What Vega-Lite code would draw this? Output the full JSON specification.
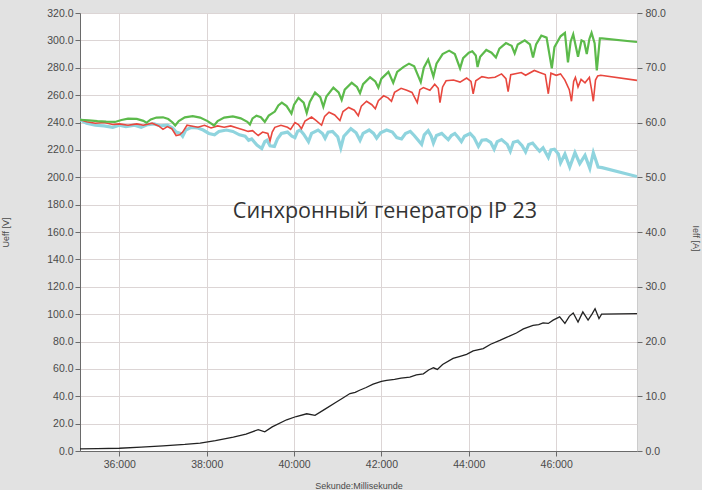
{
  "$schema": "https://vega.github.io/schema/vega-lite/v6.json",
  "width": 557,
  "height": 438,
  "autosize": {"type": "none"},
  "padding": {"left": 80, "top": 13, "right": 65, "bottom": 39},
  "background": "#e2e2e2",
  "config": {
    "view": {"fill": "white", "stroke": "#cccccc"},
    "axis": {
      "labelFont": "Liberation Sans", "titleFont": "Liberation Sans",
      "labelColor": "#4a4a4a", "titleColor": "#4a4a4a",
      "labelFontSize": 10.5, "titleFontSize": 9, "titleFontWeight": "normal",
      "domainColor": "#6a6a6a", "tickColor": "#6a6a6a", "tickSize": 5,
      "gridColor": "#dcd5d5", "gridWidth": 1, "labelOverlap": false
    }
  },
  "datasets": {
    "green": [
      {"t":35.10,"v":242.0},{"t":35.30,"v":241.6},{"t":35.50,"v":241.0},{"t":35.70,"v":240.6},{"t":35.90,"v":240.4},
      {"t":36.05,"v":241.8},{"t":36.20,"v":242.8},{"t":36.40,"v":242.6},{"t":36.55,"v":241.2},{"t":36.62,"v":239.8},
      {"t":36.72,"v":242.2},{"t":36.85,"v":243.6},{"t":37.00,"v":243.8},{"t":37.12,"v":242.5},{"t":37.22,"v":240.0},
      {"t":37.28,"v":237.8},{"t":37.36,"v":241.0},{"t":37.50,"v":243.8},{"t":37.68,"v":244.6},{"t":37.85,"v":243.6},
      {"t":38.02,"v":241.0},{"t":38.17,"v":237.8},{"t":38.25,"v":241.0},{"t":38.40,"v":243.6},{"t":38.60,"v":244.4},
      {"t":38.78,"v":243.0},{"t":38.93,"v":240.5},{"t":38.99,"v":238.5},{"t":39.05,"v":243.0},{"t":39.14,"v":245.0},
      {"t":39.24,"v":243.8},{"t":39.33,"v":240.5},{"t":39.42,"v":245.0},{"t":39.56,"v":248.0},{"t":39.64,"v":252.5},
      {"t":39.72,"v":254.5},{"t":39.83,"v":252.0},{"t":39.94,"v":246.5},{"t":40.00,"v":253.0},{"t":40.10,"v":258.0},
      {"t":40.22,"v":254.5},{"t":40.29,"v":247.0},{"t":40.36,"v":255.0},{"t":40.48,"v":262.0},{"t":40.60,"v":258.5},
      {"t":40.67,"v":251.5},{"t":40.74,"v":259.0},{"t":40.90,"v":265.5},{"t":41.02,"v":262.0},{"t":41.09,"v":256.5},
      {"t":41.16,"v":264.0},{"t":41.32,"v":269.0},{"t":41.44,"v":266.0},{"t":41.51,"v":261.5},{"t":41.58,"v":268.0},
      {"t":41.74,"v":273.0},{"t":41.86,"v":270.0},{"t":41.93,"v":265.5},{"t":42.00,"v":272.0},{"t":42.16,"v":277.0},
      {"t":42.27,"v":269.0},{"t":42.36,"v":277.0},{"t":42.50,"v":280.5},{"t":42.63,"v":283.0},{"t":42.75,"v":281.0},
      {"t":42.90,"v":269.5},{"t":42.97,"v":280.0},{"t":43.07,"v":286.0},{"t":43.19,"v":273.5},{"t":43.26,"v":283.0},
      {"t":43.40,"v":290.0},{"t":43.55,"v":292.5},{"t":43.68,"v":290.0},{"t":43.80,"v":279.5},{"t":43.87,"v":287.0},
      {"t":44.00,"v":291.0},{"t":44.08,"v":292.0},{"t":44.16,"v":289.0},{"t":44.20,"v":280.5},{"t":44.26,"v":288.0},
      {"t":44.40,"v":293.0},{"t":44.52,"v":291.0},{"t":44.62,"v":287.5},{"t":44.70,"v":294.0},{"t":44.85,"v":298.0},
      {"t":44.98,"v":296.0},{"t":45.05,"v":290.5},{"t":45.12,"v":297.0},{"t":45.28,"v":300.0},{"t":45.40,"v":297.0},
      {"t":45.47,"v":287.5},{"t":45.54,"v":297.0},{"t":45.66,"v":303.5},{"t":45.78,"v":302.0},{"t":45.90,"v":279.5},
      {"t":45.96,"v":295.0},{"t":46.10,"v":303.0},{"t":46.20,"v":305.5},{"t":46.27,"v":284.0},{"t":46.33,"v":299.0},
      {"t":46.39,"v":304.5},{"t":46.50,"v":288.0},{"t":46.58,"v":300.0},{"t":46.64,"v":299.0},{"t":46.70,"v":290.0},
      {"t":46.76,"v":301.0},{"t":46.81,"v":305.5},{"t":46.88,"v":298.0},{"t":46.93,"v":278.0},{"t":47.00,"v":301.5},
      {"t":47.05,"v":301.5},{"t":47.85,"v":298.8}
    ],
    "red": [
      {"t":35.10,"v":242.0},{"t":35.25,"v":240.5},{"t":35.45,"v":239.5},{"t":35.65,"v":240.0},{"t":35.85,"v":238.5},
      {"t":36.00,"v":239.0},{"t":36.20,"v":238.0},{"t":36.40,"v":239.0},{"t":36.55,"v":238.0},{"t":36.75,"v":239.5},
      {"t":36.90,"v":237.5},{"t":37.00,"v":235.0},{"t":37.10,"v":237.0},{"t":37.20,"v":235.5},{"t":37.30,"v":230.5},
      {"t":37.38,"v":231.0},{"t":37.45,"v":233.0},{"t":37.55,"v":238.0},{"t":37.65,"v":237.5},{"t":37.80,"v":236.5},
      {"t":37.95,"v":238.0},{"t":38.10,"v":236.0},{"t":38.25,"v":237.5},{"t":38.40,"v":236.5},{"t":38.55,"v":237.5},
      {"t":38.70,"v":236.0},{"t":38.85,"v":234.5},{"t":38.95,"v":233.5},{"t":39.05,"v":234.0},{"t":39.18,"v":230.5},
      {"t":39.28,"v":233.0},{"t":39.40,"v":232.0},{"t":39.45,"v":226.5},{"t":39.50,"v":233.0},{"t":39.56,"v":236.5},
      {"t":39.70,"v":238.0},{"t":39.85,"v":236.5},{"t":39.92,"v":235.0},{"t":40.02,"v":240.0},{"t":40.10,"v":238.5},
      {"t":40.17,"v":235.5},{"t":40.25,"v":241.0},{"t":40.40,"v":244.0},{"t":40.50,"v":241.5},{"t":40.63,"v":238.0},
      {"t":40.70,"v":244.5},{"t":40.80,"v":247.5},{"t":40.93,"v":245.5},{"t":41.05,"v":241.5},{"t":41.12,"v":248.0},
      {"t":41.25,"v":251.0},{"t":41.38,"v":249.0},{"t":41.47,"v":245.0},{"t":41.54,"v":252.0},{"t":41.66,"v":255.5},
      {"t":41.78,"v":253.0},{"t":41.86,"v":250.0},{"t":41.93,"v":256.0},{"t":42.05,"v":259.5},{"t":42.15,"v":258.0},
      {"t":42.23,"v":255.5},{"t":42.30,"v":262.0},{"t":42.45,"v":265.0},{"t":42.58,"v":263.5},{"t":42.70,"v":262.0},
      {"t":42.82,"v":254.5},{"t":42.88,"v":264.0},{"t":42.96,"v":265.5},{"t":43.11,"v":263.5},{"t":43.22,"v":268.0},
      {"t":43.30,"v":265.0},{"t":43.34,"v":254.5},{"t":43.40,"v":266.0},{"t":43.48,"v":270.5},{"t":43.65,"v":271.0},
      {"t":43.80,"v":269.5},{"t":43.95,"v":272.5},{"t":44.05,"v":270.0},{"t":44.10,"v":261.0},{"t":44.16,"v":270.5},
      {"t":44.30,"v":273.5},{"t":44.45,"v":272.5},{"t":44.60,"v":273.0},{"t":44.75,"v":275.5},{"t":44.85,"v":272.0},
      {"t":44.90,"v":262.5},{"t":44.96,"v":275.0},{"t":45.20,"v":276.5},{"t":45.30,"v":274.5},{"t":45.50,"v":278.0},
      {"t":45.62,"v":276.5},{"t":45.75,"v":275.0},{"t":45.82,"v":261.0},{"t":45.88,"v":276.0},{"t":46.00,"v":274.5},
      {"t":46.10,"v":275.5},{"t":46.20,"v":271.0},{"t":46.30,"v":264.0},{"t":46.35,"v":255.5},{"t":46.40,"v":270.0},
      {"t":46.44,"v":273.0},{"t":46.50,"v":266.0},{"t":46.57,"v":271.5},{"t":46.66,"v":269.0},{"t":46.76,"v":273.0},
      {"t":46.81,"v":264.0},{"t":46.85,"v":255.5},{"t":46.90,"v":271.0},{"t":46.95,"v":274.0},{"t":47.02,"v":274.5},
      {"t":47.85,"v":270.8}
    ],
    "cyan": [
      {"t":35.10,"v":242.0},{"t":35.25,"v":239.5},{"t":35.45,"v":238.0},{"t":35.65,"v":237.5},{"t":35.85,"v":236.5},
      {"t":36.00,"v":238.0},{"t":36.15,"v":237.0},{"t":36.35,"v":238.0},{"t":36.50,"v":236.5},{"t":36.65,"v":238.5},
      {"t":36.80,"v":239.0},{"t":36.95,"v":237.5},{"t":37.10,"v":238.0},{"t":37.22,"v":236.0},{"t":37.30,"v":233.0},
      {"t":37.40,"v":232.0},{"t":37.45,"v":230.0},{"t":37.52,"v":234.5},{"t":37.65,"v":236.5},{"t":37.80,"v":236.0},
      {"t":37.92,"v":234.5},{"t":38.05,"v":232.0},{"t":38.18,"v":231.0},{"t":38.28,"v":233.5},{"t":38.45,"v":234.5},
      {"t":38.60,"v":233.5},{"t":38.75,"v":231.0},{"t":38.88,"v":230.0},{"t":38.96,"v":227.0},{"t":39.03,"v":228.0},
      {"t":39.15,"v":223.5},{"t":39.26,"v":221.0},{"t":39.33,"v":226.0},{"t":39.38,"v":227.0},{"t":39.45,"v":223.0},
      {"t":39.55,"v":222.5},{"t":39.62,"v":228.0},{"t":39.71,"v":232.0},{"t":39.85,"v":233.0},{"t":39.95,"v":230.0},
      {"t":40.02,"v":229.0},{"t":40.08,"v":233.5},{"t":40.14,"v":234.5},{"t":40.22,"v":231.5},{"t":40.33,"v":226.0},
      {"t":40.40,"v":232.0},{"t":40.55,"v":234.5},{"t":40.65,"v":232.0},{"t":40.71,"v":228.5},{"t":40.78,"v":233.0},
      {"t":40.88,"v":233.5},{"t":41.00,"v":229.5},{"t":41.07,"v":221.5},{"t":41.14,"v":230.0},{"t":41.30,"v":235.5},
      {"t":41.42,"v":232.5},{"t":41.51,"v":227.0},{"t":41.58,"v":232.0},{"t":41.72,"v":234.5},{"t":41.82,"v":232.0},
      {"t":41.89,"v":228.5},{"t":41.98,"v":232.5},{"t":42.12,"v":234.5},{"t":42.25,"v":233.0},{"t":42.35,"v":229.0},
      {"t":42.46,"v":228.0},{"t":42.55,"v":232.0},{"t":42.66,"v":233.5},{"t":42.75,"v":230.5},{"t":42.92,"v":224.0},
      {"t":42.98,"v":231.0},{"t":43.07,"v":234.0},{"t":43.14,"v":230.0},{"t":43.19,"v":225.0},{"t":43.26,"v":230.5},
      {"t":43.38,"v":232.0},{"t":43.48,"v":229.0},{"t":43.53,"v":227.5},{"t":43.60,"v":230.5},{"t":43.68,"v":232.0},
      {"t":43.76,"v":229.0},{"t":43.83,"v":226.0},{"t":43.90,"v":230.0},{"t":44.03,"v":232.0},{"t":44.12,"v":229.0},
      {"t":44.22,"v":222.5},{"t":44.30,"v":227.0},{"t":44.40,"v":227.5},{"t":44.50,"v":225.5},{"t":44.58,"v":220.5},
      {"t":44.65,"v":226.0},{"t":44.75,"v":227.5},{"t":44.88,"v":224.0},{"t":44.95,"v":219.0},{"t":45.02,"v":225.5},
      {"t":45.12,"v":226.5},{"t":45.22,"v":223.0},{"t":45.30,"v":218.5},{"t":45.37,"v":224.0},{"t":45.46,"v":225.0},
      {"t":45.55,"v":221.5},{"t":45.62,"v":219.0},{"t":45.70,"v":221.5},{"t":45.82,"v":214.5},{"t":45.88,"v":220.0},
      {"t":45.96,"v":220.5},{"t":46.05,"v":217.0},{"t":46.10,"v":210.5},{"t":46.20,"v":217.0},{"t":46.31,"v":207.5},
      {"t":46.43,"v":218.0},{"t":46.54,"v":210.0},{"t":46.66,"v":216.0},{"t":46.77,"v":206.5},{"t":46.85,"v":218.0},
      {"t":46.96,"v":207.5},{"t":47.05,"v":207.0},{"t":47.85,"v":200.5}
    ],
    "current": [
      {"t":35.10,"v":0.4},{"t":35.50,"v":0.45},{"t":36.00,"v":0.5},{"t":36.50,"v":0.7},{"t":37.00,"v":0.95},
      {"t":37.50,"v":1.2},{"t":37.85,"v":1.45},{"t":38.20,"v":1.9},{"t":38.61,"v":2.55},{"t":38.90,"v":3.1},
      {"t":39.18,"v":3.9},{"t":39.33,"v":3.5},{"t":39.50,"v":4.4},{"t":39.83,"v":5.7},{"t":40.05,"v":6.3},
      {"t":40.29,"v":6.8},{"t":40.48,"v":6.5},{"t":40.70,"v":7.6},{"t":40.97,"v":8.95},{"t":41.10,"v":9.6},
      {"t":41.28,"v":10.5},{"t":41.40,"v":10.7},{"t":41.50,"v":11.1},{"t":41.65,"v":11.6},{"t":41.81,"v":12.2},
      {"t":42.00,"v":12.7},{"t":42.12,"v":12.9},{"t":42.30,"v":13.1},{"t":42.45,"v":13.3},{"t":42.65,"v":13.5},
      {"t":42.80,"v":13.9},{"t":42.96,"v":14.1},{"t":43.08,"v":14.8},{"t":43.19,"v":15.2},{"t":43.28,"v":14.9},
      {"t":43.40,"v":15.8},{"t":43.64,"v":16.9},{"t":43.80,"v":17.3},{"t":43.95,"v":17.65},{"t":44.10,"v":18.3},
      {"t":44.33,"v":18.7},{"t":44.50,"v":19.5},{"t":44.71,"v":20.2},{"t":44.85,"v":20.7},{"t":45.09,"v":21.55},
      {"t":45.25,"v":22.3},{"t":45.47,"v":22.95},{"t":45.60,"v":23.1},{"t":45.70,"v":23.4},{"t":45.82,"v":23.3},
      {"t":45.93,"v":23.9},{"t":46.08,"v":24.5},{"t":46.20,"v":23.3},{"t":46.30,"v":24.6},{"t":46.39,"v":25.2},
      {"t":46.50,"v":23.55},{"t":46.61,"v":25.4},{"t":46.73,"v":23.9},{"t":46.82,"v":25.0},{"t":46.89,"v":26.0},
      {"t":46.98,"v":24.2},{"t":47.04,"v":25.0},{"t":47.85,"v":25.1}
    ],
    "caption": [{"t":42.08,"v":174.4,"label":"Синхронный генератор IP 23"}]
  },
  "layer": [
    {
      "encoding": {
        "x": {"field": "t", "type": "quantitative",
          "scale": {"domain": [35.1, 47.85], "nice": false, "zero": false},
          "axis": {"values": [36, 38, 40, 42, 44, 46], "tickCount": 20, "labelExpr": "datum.value + ':000'", "grid": true,
            "title": "Sekunde:Millisekunde", "titleY": 37, "titleBaseline": "alphabetic", "labelPadding": 3}},
        "y": {"field": "v", "type": "quantitative",
          "scale": {"domain": [0, 320], "nice": false},
          "axis": {"values": [0,20,40,60,80,100,120,140,160,180,200,220,240,260,280,300,320], "tickCount": 40, "format": ".1f",
            "grid": true, "labelOverlap": false, "title": "Ueff [V]", "titleX": -70, "titleY": 219, "labelPadding": 2}}
      },
      "layer": [
        {
          "data": {"name": "cyan"},
          "mark": {"type": "line", "color": "#8fd4de", "strokeWidth": 3.2, "clip": true}
        },
        {
          "data": {"name": "red"},
          "mark": {"type": "line", "color": "#e8473e", "strokeWidth": 1.6, "clip": true}
        },
        {
          "data": {"name": "green"},
          "mark": {"type": "line", "color": "#5cba4b", "strokeWidth": 2.2, "clip": true}
        },
        {
          "data": {"name": "caption"},
          "mark": {"type": "text", "font": "Open Sans", "fontSize": 21.5, "color": "#333333", "align": "center", "baseline": "middle"},
          "encoding": {
            "text": {"field": "label"}
          }
        }
      ]
    },
    {
      "data": {"name": "current"},
      "mark": {"type": "line", "color": "#222222", "strokeWidth": 1.3, "clip": true},
      "encoding": {
        "x": {"field": "t", "type": "quantitative"},
        "y": {"field": "v", "type": "quantitative",
          "scale": {"domain": [0, 80], "nice": false},
          "axis": {"orient": "right", "values": [0,10,20,30,40,50,60,70,80], "tickCount": 20, "format": ".1f", "grid": false,
            "domain": false, "title": "Ieff [A]", "titleX": 53, "titleY": 225, "labelPadding": 3}}
      }
    }
  ],
  "resolve": {"scale": {"y": "independent"}}
}
